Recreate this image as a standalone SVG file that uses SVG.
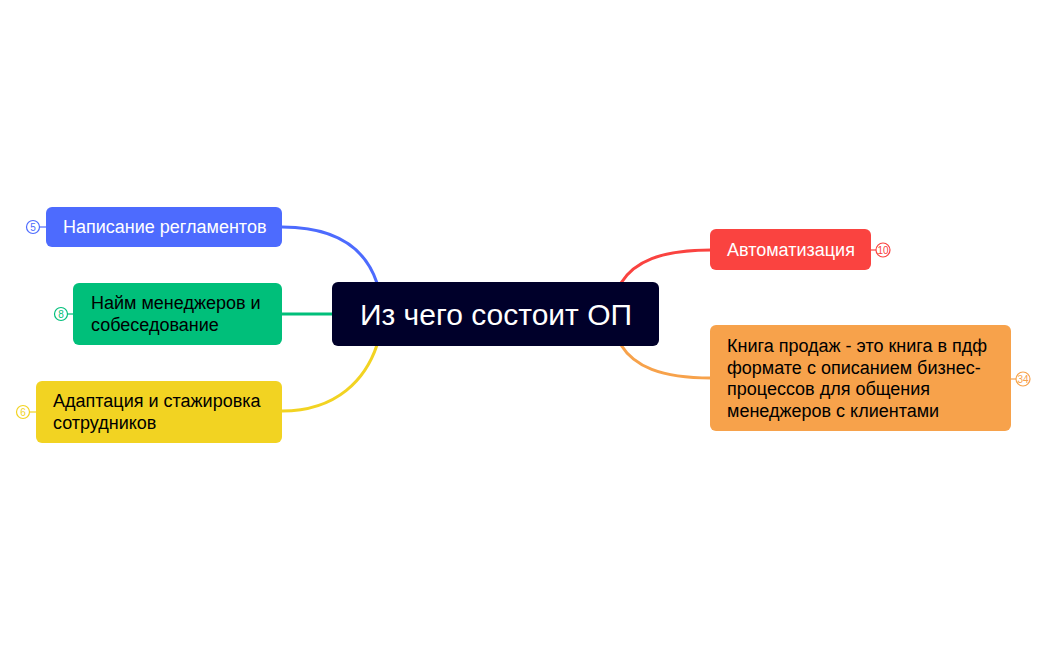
<svg xmlns="http://www.w3.org/2000/svg" width="1047" height="650" viewBox="0 0 1047 650">
<style>
text{font-family:"Liberation Sans",Arial,sans-serif}
.t{font-size:18px}
.b{font-size:10px;text-anchor:middle}
.c{fill:none;stroke-width:3}
.bc{fill:#fff;stroke-width:1.2}
</style>
<rect width="1047" height="650" fill="#fff"/>
<g id="connectors">
<path class="c" stroke="#4D6BFE" d="M282,227 C338,227 366,250 377,283"/>
<path class="c" stroke="#00BF7A" d="M282,314 L333,314"/>
<path class="c" stroke="#F2D322" d="M282,411 C338,411 366,378 377,345"/>
<path class="c" stroke="#FA4340" d="M621,283 C634,262 660,250 711,250"/>
<path class="c" stroke="#F7A24B" d="M621,345 C634,366 660,378 711,378"/>
</g>
<g id="center">
<rect x="332" y="282" width="327" height="64" rx="6" fill="#00002A"/>
<text x="496" y="325" font-size="30" fill="#fff" text-anchor="middle">Из чего состоит ОП</text>
</g>
<g id="n1">
<rect x="46" y="207" width="236" height="40" rx="6" fill="#4D6BFE"/>
<text class="t" x="63" y="233" fill="#fff">Написание регламентов</text>
<line x1="40" y1="227" x2="46" y2="227" stroke="#4D6BFE" stroke-width="1.2"/>
<circle class="bc" cx="33" cy="227" r="6.5" stroke="#4D6BFE"/>
<text class="b" x="33" y="230.5" fill="#4D6BFE">5</text>
</g>
<g id="n2">
<rect x="73" y="283" width="209" height="62" rx="6" fill="#00BF7A"/>
<text class="t" x="91" y="309" fill="#000">Найм менеджеров и</text>
<text class="t" x="91" y="331" fill="#000">собеседование</text>
<line x1="68" y1="314" x2="73" y2="314" stroke="#00BF7A" stroke-width="1.2"/>
<circle class="bc" cx="61" cy="314" r="6.5" stroke="#00BF7A"/>
<text class="b" x="61" y="317.5" fill="#00BF7A">8</text>
</g>
<g id="n3">
<rect x="36" y="381" width="246" height="62" rx="6" fill="#F2D322"/>
<text class="t" x="53" y="407" fill="#000">Адаптация и стажировка</text>
<text class="t" x="53" y="429" fill="#000">сотрудников</text>
<line x1="30" y1="412" x2="36" y2="412" stroke="#F2D322" stroke-width="1.2"/>
<circle class="bc" cx="23" cy="412" r="6.5" stroke="#F2D322"/>
<text class="b" x="23" y="415.5" fill="#F2D322">6</text>
</g>
<g id="n4">
<rect x="710" y="229" width="161" height="41" rx="6" fill="#FA4340"/>
<text class="t" x="727" y="256" fill="#fff">Автоматизация</text>
<line x1="871" y1="250" x2="876" y2="250" stroke="#FA4340" stroke-width="1.2"/>
<circle class="bc" cx="883" cy="250" r="7" stroke="#FA4340"/>
<text class="b" x="883" y="253.5" fill="#FA4340">10</text>
</g>
<g id="n5">
<rect x="710" y="325" width="301" height="106" rx="6" fill="#F7A24B"/>
<text class="t" x="727" y="352" fill="#000">Книга продаж - это книга в пдф</text>
<text class="t" x="727" y="374" fill="#000">формате с описанием бизнес-</text>
<text class="t" x="727" y="395" fill="#000">процессов для общения</text>
<text class="t" x="727" y="417" fill="#000">менеджеров с клиентами</text>
<line x1="1011" y1="379" x2="1016" y2="379" stroke="#F7A24B" stroke-width="1.2"/>
<circle class="bc" cx="1023" cy="379" r="7" stroke="#F7A24B"/>
<text class="b" x="1023" y="382.5" fill="#F7A24B">34</text>
</g>
</svg>
